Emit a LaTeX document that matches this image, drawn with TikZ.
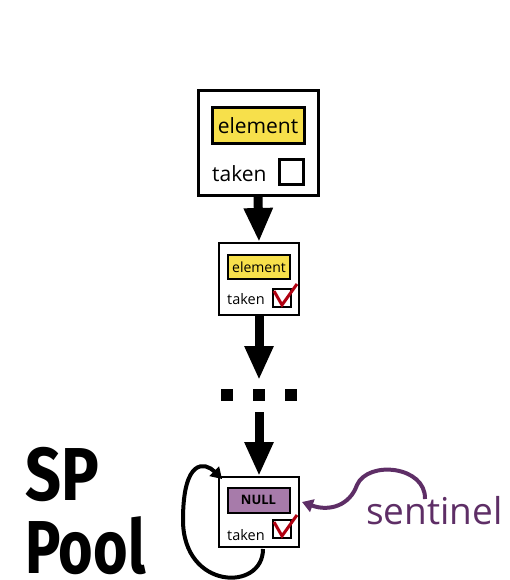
\documentclass[tikz,border=0pt]{standalone}
\usepackage{fontspec}
\setmainfont{Open Sans}
\newfontfamily\sptitle{Fira Sans}
\usetikzlibrary{arrows.meta}
\definecolor{elemyellow}{HTML}{F7E04B}
\definecolor{nullpurple}{HTML}{A77BAA}
\definecolor{sentpurple}{HTML}{5E2E66}
\definecolor{checkred}{HTML}{B00010}
\begin{document}
\begin{tikzpicture}[x=1pt,y=-1pt,
  bigbox/.style={draw,line width=3pt,fill=white,inner sep=0pt},
  smallbox/.style={draw,line width=2pt,fill=white,inner sep=0pt},
  elem/.style={draw,fill=elemyellow,inner sep=0pt},
  nullbox/.style={draw,line width=2pt,fill=nullpurple,inner sep=0pt,font=\bfseries\fontsize{13}{13}\selectfont},
  chk/.style={draw,inner sep=0pt},
  label/.style={inner sep=0pt,anchor=base west},
  flow/.style={line width=9pt,-{Triangle[width=27pt,length=34pt]}},
  dotsq/.style={fill=black,minimum size=12pt,inner sep=0pt},
  tick/.style={checkred,line width=3pt,line join=miter},
]
\useasboundingbox (0,0) rectangle (510,580);

% big node
\node[bigbox,minimum width=120pt,minimum height=104pt] (big) at (258,143) {};
\node[elem,line width=3pt,minimum width=92pt,minimum height=36pt,font=\fontsize{21}{21}\selectfont] (bigelem) at (258,126) {element};
\node[label,font=\fontsize{21}{21}\selectfont] (bigtaken) at (212,182) {taken};
\node[chk,line width=3pt,minimum size=24pt] (bigchk) at (291,172) {};

% small node
\node[smallbox,minimum width=80pt,minimum height=72pt] (mid) at (259,279) {};
\node[elem,line width=2pt,minimum width=62pt,minimum height=24pt,font=\fontsize{14}{14}\selectfont] (midelem) at (259,267) {element};
\node[label,font=\fontsize{14.5}{14.5}\selectfont] (midtaken) at (227,304) {taken};
\node[chk,line width=2pt,minimum size=18pt] (midchk) at (281.5,297.5) {};
\draw[tick] (274,291) -- (282,305) -- (297,284);

% dots
\node[dotsq] (d1) at (227,395) {};
\node[dotsq] (d2) at (259,395) {};
\node[dotsq] (d3) at (291,395) {};
\coordinate (dtop) at (259,380);
\coordinate (dbot) at (259,412);

% bottom node
\node[smallbox,minimum width=80pt,minimum height=70pt] (bot) at (259,512) {};
\node[nullbox,minimum width=62pt,minimum height=25pt] (null) at (258.5,500) {NULL};
\node[label,font=\fontsize{14.5}{14.5}\selectfont] (bottaken) at (227,540) {taken};
\node[chk,line width=2pt,minimum size=18pt] (botchk) at (281.5,529) {};
\draw[tick] (274,522) -- (282,536) -- (297,515);

% arrows
\draw[flow] (big.south) -- (mid.north);
\draw[flow] (mid.south) -- (dtop);
\draw[flow] (dbot) -- (bot.north);

% self loop
\coordinate (loopstart) at (263,549);
\coordinate (loopend) at (222,479);
\draw[line width=4pt,-{Triangle[width=13pt,length=11pt]}] (loopstart) .. controls (263,592) and (183,590) .. (183,520) .. controls (183,458) and (205,462) .. (loopend);

% sentinel
\node[label,text=sentpurple,font=\fontsize{37}{37}\selectfont] (sent) at (366,524) {sentinel};
\coordinate (sentstart) at (425,499);
\coordinate (sentend) at (302,502);
\draw[sentpurple,line width=4pt,-{Triangle[width=13pt,length=11pt]}] (sentstart) .. controls (426,466) and (368,460) .. (357,485) .. controls (350,505) and (330,512) .. (sentend);

% title
\node[inner sep=0pt,anchor=base west,align=left,font=\sptitle\bfseries\fontsize{75}{73}\selectfont] (title) at (25,573) {\scalebox{0.84}[1]{SP}\\\scalebox{0.79}[1]{Pool}};
\end{tikzpicture}
\end{document}
